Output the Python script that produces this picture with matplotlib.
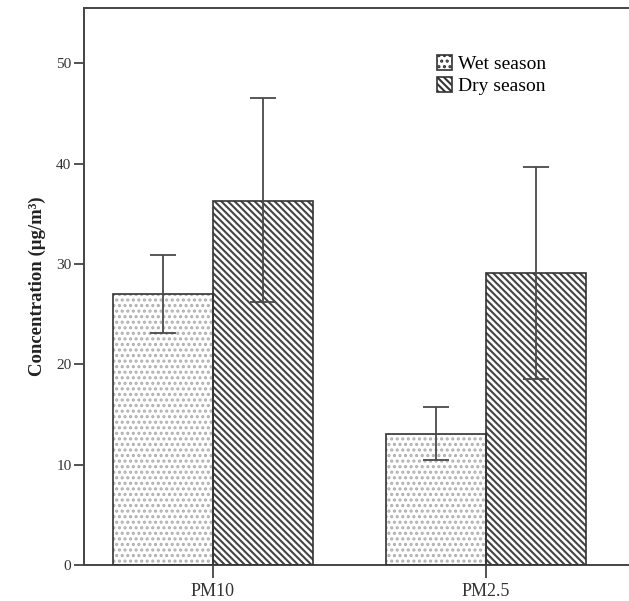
import matplotlib.pyplot as plt
import numpy as np

plt.rcParams['font.family'] = ['Liberation Serif', 'DejaVu Serif']
plt.rcParams['hatch.linewidth'] = 1.5

pollutants = ['PM10', 'PM2.5']
seasons = ['Wet season', 'Dry season']
means = {'Wet season': [27.0, 13.1], 'Dry season': [36.3, 29.1]}
err_low = {'Wet season': [23.1, 10.5], 'Dry season': [26.2, 18.5]}
err_high = {'Wet season': [30.9, 15.7], 'Dry season': [46.5, 39.7]}
yticks = [0, 10, 20, 30, 40, 50]

hatches = {'Wet season': '...', 'Dry season': '\\\\\\\\\\'}
hatch_cols = {'Wet season': '#b0b0b0', 'Dry season': '#444444'}

fig = plt.figure(figsize=(6.29, 6.01), dpi=100)
ax = fig.add_axes([0.1335, 0.0599, 0.8665, 0.9268])

x = np.arange(len(pollutants))
width = 0.366
offsets = {'Wet season': -width / 2, 'Dry season': width / 2}

handles = []
for s in seasons:
    pos = x + offsets[s]
    ax.bar(pos, means[s], width, color='white', edgecolor=hatch_cols[s],
           hatch=hatches[s], linewidth=0, zorder=2)
    ax.bar(pos, means[s], width, fill=False, edgecolor='#333333',
           linewidth=1.2, zorder=3)
    m = np.array(means[s])
    lo = m - np.array(err_low[s])
    hi = np.array(err_high[s]) - m
    ax.errorbar(pos, m, yerr=[lo, hi], fmt='none', ecolor='#4a4a4a',
                elinewidth=1.3, capsize=9.5, capthick=1.3, zorder=4)
    h = plt.Rectangle((0, 0), 1, 1, facecolor='white', edgecolor=hatch_cols[s],
                      hatch=hatches[s], linewidth=0)
    handles.append(h)

ax.set_xlim(-0.4725, 1.524)
ax.set_ylim(0, 55.5)
ax.set_yticks(yticks)
ax.set_xticks(x)
ax.set_xticklabels(pollutants)

for side in ['left', 'bottom', 'top']:
    ax.spines[side].set_color('#444444')
    ax.spines[side].set_linewidth(1.4)
ax.spines['right'].set_visible(False)

ax.tick_params(axis='y', length=7, width=1.3, color='#444444',
               labelsize=11, labelcolor='#333333', pad=2)
ax.tick_params(axis='x', length=9, width=1.3, color='#444444',
               labelsize=13, labelcolor='#333333', pad=4)

ax.set_ylabel('Concentration (μg/m³)', fontsize=13.5, fontweight='bold',
              color='#222222', labelpad=7)

leg = fig.legend(handles, seasons, loc='upper left',
                 bbox_to_anchor=(0.695, 0.908), frameon=False, fontsize=14,
                 handlelength=0.78, handleheight=0.78, handletextpad=0.3,
                 labelspacing=0.2, borderaxespad=0, borderpad=0)
for p in leg.get_patches():
    p.set_edgecolor('#333333')
    p.set_linewidth(1.2)

fig.savefig('out.png', dpi=100)
